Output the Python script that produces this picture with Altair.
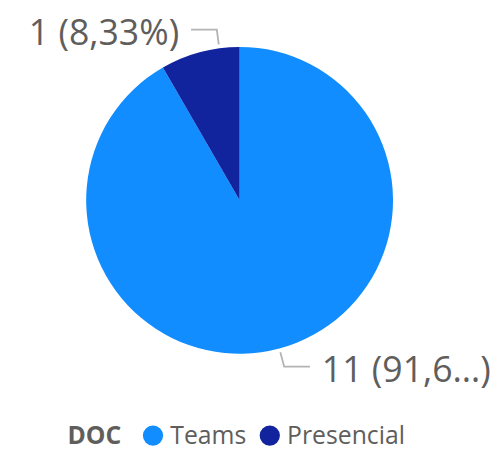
import altair as alt
import pandas as pd

# ---- data ----
categories = ["Teams", "Presencial"]
counts = [11, 1]
colors = ["#118DFF", "#12239E"]
legend_title = "DOC"

df = pd.DataFrame({"DOC": categories, "count": counts, "idx": list(range(len(categories)))})

# ---- layout constants ----
W, H = 468, 384
R = 155
CX, CY = W / 2, H / 2
ANCHOR_R = R + 4
ELBOW_R = R + 19
HORIZ = 26
GAP = 12
FONT = "Open Sans"
TXT = "#605E5C"
# Power BI nudges the leader anchor of small slices (radians)
ANCHOR_SHIFT = {"Presencial": 0.129}

shift_expr = "0"
for k, v in ANCHOR_SHIFT.items():
    shift_expr = f"(datum.DOC == '{k}' ? {v} : {shift_expr})"

base = alt.Chart(df)

arc = base.mark_arc(outerRadius=R).encode(
    theta=alt.Theta("count:Q", stack=True),
    color=alt.Color(
        "DOC:N",
        scale=alt.Scale(domain=categories, range=colors),
        legend=alt.Legend(
            title=legend_title,
            orient="none",
            legendX=60,
            legendY=417,
            direction="horizontal",
            titleOrient="left",
            titleFontSize=25,
            titleFontWeight="bold",
            titleFont=FONT,
            titleColor=TXT,
            titlePadding=19,
            labelFontSize=25,
            labelFont=FONT,
            labelColor=TXT,
            labelOffset=5,
            columnPadding=11,
            symbolType="circle",
            symbolSize=420,
            symbolStrokeWidth=0,
        ),
    ),
    order=alt.Order("idx:Q"),
)

geo = (
    base.transform_joinaggregate(total="sum(count)")
    .transform_window(cum="sum(count)", sort=[alt.SortField("idx")])
    .transform_calculate(ang=f"((datum.cum - datum.count/2)/datum.total)*2*PI + {shift_expr}")
    .transform_calculate(
        x1=f"{CX} + {ANCHOR_R}*sin(datum.ang)",
        y1=f"{CY} - {ANCHOR_R}*cos(datum.ang)",
        x2=f"{CX} + {ELBOW_R}*sin(datum.ang)",
        y2=f"{CY} - {ELBOW_R}*cos(datum.ang)",
        side="sin(datum.ang) < 0 ? -1 : 1",
    )
    .transform_calculate(
        x3=f"datum.x2 + datum.side*{HORIZ}",
        tx=f"datum.x2 + datum.side*{HORIZ + GAP}",
        pct="replace(format(datum.count/datum.total, '.2%'), '.', ',')",
    )
    .transform_calculate(
        pshort="length(datum.pct) > 5 ? substring(datum.pct, 0, 4) + '…' : datum.pct",
    )
    .transform_calculate(label="datum.count + ' (' + datum.pshort + ')'")
)

lines = (
    geo.transform_calculate(k="[0, 1, 2]")
    .transform_flatten(["k"])
    .transform_calculate(
        px="datum.k == 0 ? datum.x1 : (datum.k == 1 ? datum.x2 : datum.x3)",
        py="datum.k == 0 ? datum.y1 : datum.y2",
    )
    .mark_line(color="#B3B3B3", strokeWidth=1.8, strokeJoin="miter")
    .encode(
        x=alt.X("px:Q", scale=None, axis=None),
        y=alt.Y("py:Q", scale=None, axis=None),
        detail="DOC:N",
        order="k:Q",
    )
)

text_right = (
    geo.transform_filter("datum.side > 0")
    .mark_text(align="left", baseline="alphabetic", dy=16, fontSize=36, font=FONT, color=TXT)
    .encode(
        x=alt.X("tx:Q", scale=None, axis=None),
        y=alt.Y("y2:Q", scale=None, axis=None),
        text="label:N",
    )
)

text_left = (
    geo.transform_filter("datum.side < 0")
    .mark_text(align="right", baseline="alphabetic", dy=16, fontSize=36, font=FONT, color=TXT)
    .encode(
        x=alt.X("tx:Q", scale=None, axis=None),
        y=alt.Y("y2:Q", scale=None, axis=None),
        text="label:N",
    )
)

chart = (
    alt.layer(arc, lines, text_right, text_left)
    .properties(width=W, height=H, padding=0)
    .configure_view(stroke=None)
)

chart.save("out.html", embed_options={"renderer": "svg", "actions": False})
